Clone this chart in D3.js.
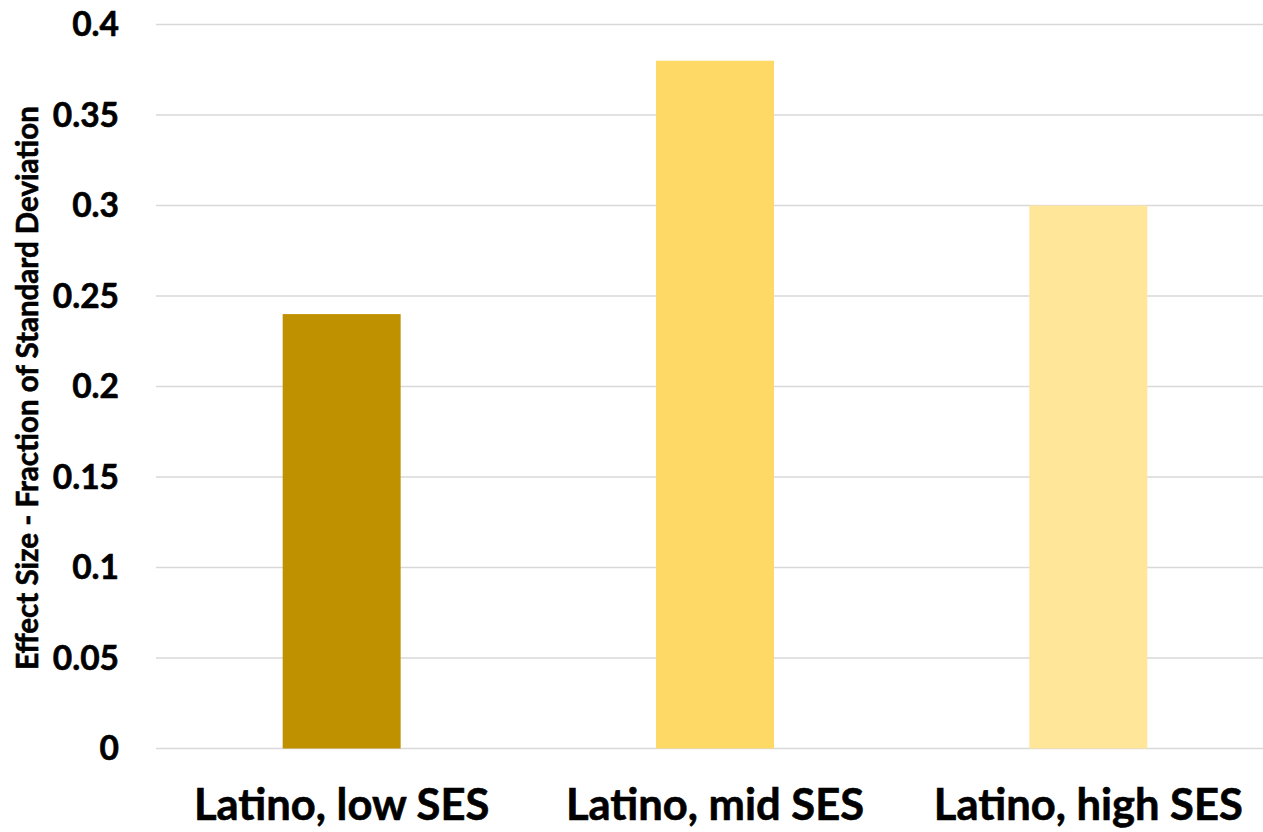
<!DOCTYPE html>
<html>
<head>
<meta charset="utf-8">
<script src="https://cdn.jsdelivr.net/npm/d3@7"></script>
<style>
  html, body { margin: 0; padding: 0; background: #fff; }
  svg { display: block; }
  text { font-family: Lato, "Open Sans", sans-serif; font-weight: bold; fill: #000; stroke: #000; stroke-width: 0.6px; }
</style>
</head>
<body>
<svg id="chart" width="1263" height="832"></svg>
<script>
// Effect sizes by SES group
const categories = ["Latino, low SES", "Latino, mid SES", "Latino, high SES"];
const values = [0.24, 0.38, 0.30];
const barColors = ["#BF9000", "#FFD966", "#FFE699"];
const tickValues = [0, 0.05, 0.1, 0.15, 0.2, 0.25, 0.3, 0.35, 0.4];
const tickLabels = ["0", "0.05", "0.1", "0.15", "0.2", "0.25", "0.3", "0.35", "0.4"];
const yTitle = "Effect Size - Fraction of Standard Deviation";

const svg = d3.select("#chart");
const W = 1263, H = 832;

const x = d3.scaleBand()
  .domain(categories)
  .range([155, 1275])
  .paddingInner(0.684)
  .paddingOuter(0.342);

const y = d3.scaleLinear().domain([0, 0.4]).range([748.5, 24.5]);

// horizontal gridlines
svg.append("g")
  .selectAll("line")
  .data(tickValues)
  .join("line")
  .attr("x1", 156)
  .attr("x2", W)
  .attr("y1", d => y(d))
  .attr("y2", d => y(d))
  .attr("stroke", "#d9d9d9")
  .attr("stroke-width", 1.5);

// y tick labels
svg.append("g")
  .selectAll("text")
  .data(tickValues)
  .join("text")
  .attr("x", 119)
  .attr("y", d => y(d))
  .attr("dy", "0.35em")
  .attr("text-anchor", "end")
  .style("font-size", "33.5px")
  .text((d, i) => tickLabels[i]);

// bars
svg.append("g")
  .selectAll("rect")
  .data(values)
  .join("rect")
  .attr("x", (d, i) => x(categories[i]))
  .attr("width", x.bandwidth())
  .attr("y", d => y(d))
  .attr("height", d => y(0) - y(d))
  .attr("fill", (d, i) => barColors[i]);

// category labels
svg.append("g")
  .selectAll("text")
  .data(categories)
  .join("text")
  .attr("x", d => x(d) + x.bandwidth() / 2)
  .attr("y", 820)
  .attr("text-anchor", "middle")
  .style("font-size", "43.5px")
  .text(d => d);

// y axis title
svg.append("text")
  .attr("transform", "translate(38,388) rotate(-90)")
  .attr("text-anchor", "middle")
  .style("font-size", "29.5px")
  .text(yTitle);
</script>
</body>
</html>
